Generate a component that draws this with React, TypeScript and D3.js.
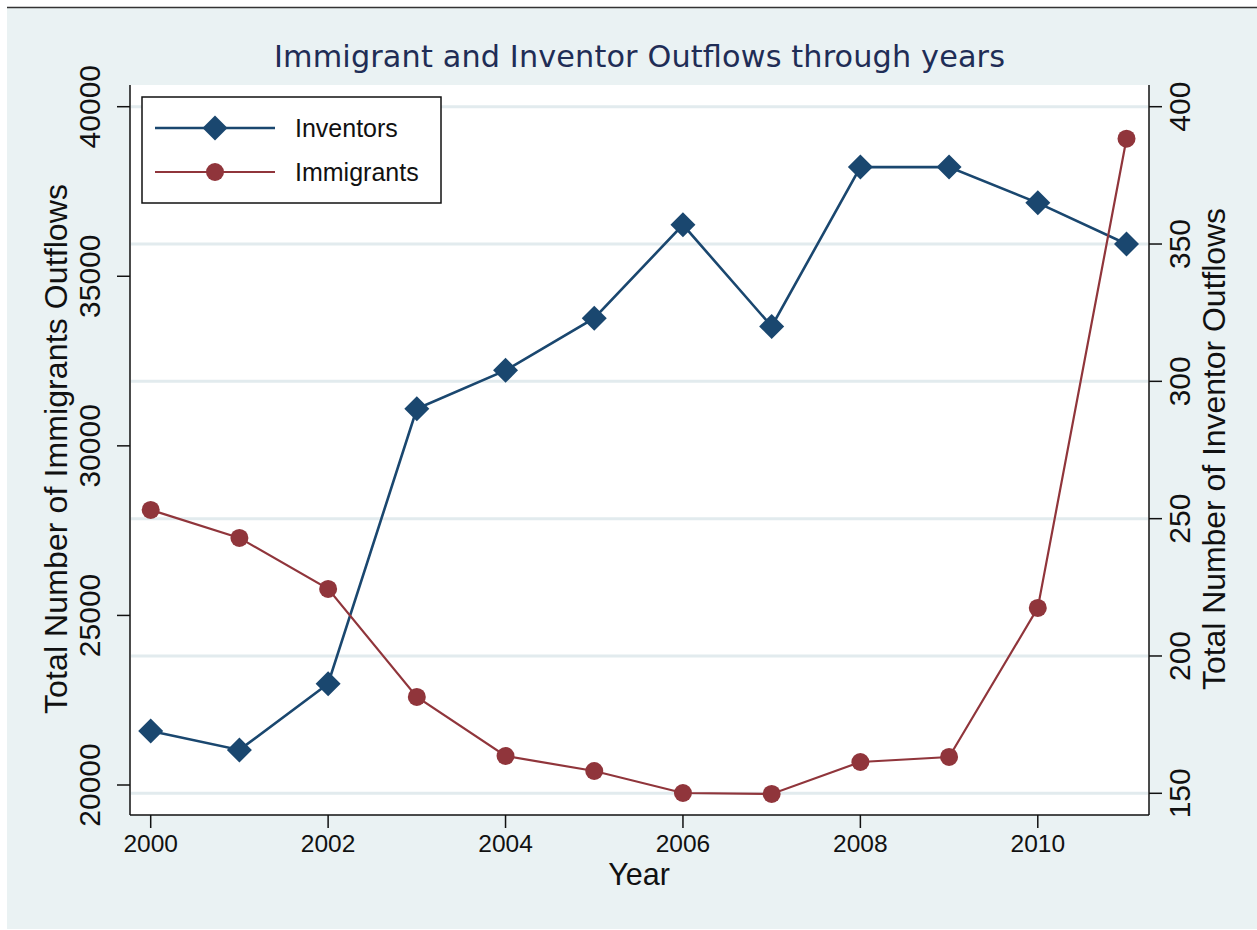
import React from "react";
import * as d3 from "d3";

const years = [2000, 2001, 2002, 2003, 2004, 2005, 2006, 2007, 2008, 2009, 2010, 2011];
const inventors = [172.7, 165.8, 189.9, 290, 304, 323, 357, 320, 378, 378, 365, 350];
const immigrants = [28112, 27286, 25782, 22596, 20855, 20413, 19764, 19735, 20678, 20826, 25221, 39057];
const xTicks = [2000, 2002, 2004, 2006, 2008, 2010];
const leftTicks = [20000, 25000, 30000, 35000, 40000];
const rightTicks = [150, 200, 250, 300, 350, 400];

const W = 1257;
const H = 930;
const FONT = "'Liberation Sans', Arial, Helvetica, sans-serif";
const TITLE_FONT = "'DejaVu Sans', Verdana, sans-serif";
const NAVY = "#1a476f";
const MAROON = "#90353b";
const BG = "#eaf2f3";
const GRID = "#e2ebee";

export default function App() {
  const plot = { left: 130, right: 1149, top: 85, bottom: 815 };
  const x = d3.scaleLinear().domain([2000, 2011]).range([150.7, 1126.5]);
  const yL = d3.scaleLinear().domain([20000, 40000]).range([785, 106.7]);
  const yR = d3.scaleLinear().domain([150, 400]).range([793.3, 106.7]);

  const invLine = d3
    .line<number>()
    .x((_, i) => x(years[i]))
    .y((d) => yR(d));
  const immLine = d3
    .line<number>()
    .x((_, i) => x(years[i]))
    .y((d) => yL(d));

  const diamond = (cx: number, cy: number, r: number) =>
    `M${cx},${cy - r}L${cx + r},${cy}L${cx},${cy + r}L${cx - r},${cy}Z`;

  return (
    <svg
      width={W}
      height={H}
      style={{ position: "absolute", left: 0, top: 0, display: "block" }}
      fontFamily={FONT}
    >
      <rect x={0} y={0} width={W} height={H} fill="#ffffff" />
      <rect x={7} y={8} width={W - 7} height={921} fill={BG} />
      <line x1={7} x2={W} y1={7.5} y2={7.5} stroke="#333" strokeWidth={1.5} />

      {/* plot region */}
      <rect
        x={plot.left}
        y={plot.top}
        width={plot.right - plot.left}
        height={plot.bottom - plot.top}
        fill="#ffffff"
      />

      {/* gridlines */}
      {rightTicks.map((t) => (
        <line
          key={"g" + t}
          x1={plot.left + 1}
          x2={plot.right - 1}
          y1={yR(t)}
          y2={yR(t)}
          stroke={GRID}
          strokeWidth={3}
        />
      ))}

      {/* title */}
      <text
        x={639.5}
        y={66.5}
        textAnchor="middle"
        fontSize={30.3}
        fontFamily={TITLE_FONT}
        fill="#1f2d56"
        textLength={731}
        lengthAdjust="spacing"
      >
        Immigrant and Inventor Outflows through years
      </text>

      {/* axes */}
      <line x1={plot.left} x2={plot.left} y1={plot.top} y2={plot.bottom} stroke="#111" strokeWidth={1.5} />
      <line x1={plot.right} x2={plot.right} y1={plot.top} y2={plot.bottom} stroke="#111" strokeWidth={1.5} />
      <line x1={plot.left} x2={plot.right} y1={plot.bottom} y2={plot.bottom} stroke="#111" strokeWidth={1.5} />

      {/* left ticks */}
      {leftTicks.map((t) => (
        <g key={"l" + t}>
          <line x1={117} x2={plot.left} y1={yL(t)} y2={yL(t)} stroke="#111" strokeWidth={1.5} />
          <text
            transform={`translate(100,${yL(t)}) rotate(-90)`}
            textAnchor="middle"
            fontSize={30}
            fill="#111"
          >
            {t}
          </text>
        </g>
      ))}

      {/* right ticks */}
      {rightTicks.map((t) => (
        <g key={"r" + t}>
          <line x1={plot.right} x2={1162} y1={yR(t)} y2={yR(t)} stroke="#111" strokeWidth={1.5} />
          <text
            transform={`translate(1190,${yR(t)}) rotate(-90)`}
            textAnchor="middle"
            fontSize={30}
            fill="#111"
          >
            {t}
          </text>
        </g>
      ))}

      {/* x ticks */}
      {xTicks.map((t) => (
        <g key={"x" + t}>
          <line x1={x(t)} x2={x(t)} y1={plot.bottom} y2={828} stroke="#111" strokeWidth={1.5} />
          <text x={x(t)} y={851.5} textAnchor="middle" fontSize={24.5} fill="#111">
            {t}
          </text>
        </g>
      ))}

      {/* axis titles */}
      <text x={639} y={885} textAnchor="middle" fontSize={30.5} fill="#111">
        Year
      </text>
      <text
        transform={`translate(67,449) rotate(-90)`}
        textAnchor="middle"
        fontSize={32}
        fill="#111"
        textLength={530}
        lengthAdjust="spacing"
      >
        Total Number of Immigrants Outflows
      </text>
      <text
        transform={`translate(1225,449) rotate(-90)`}
        textAnchor="middle"
        fontSize={32}
        fill="#111"
        textLength={482}
        lengthAdjust="spacing"
      >
        Total Number of Inventor Outflows
      </text>

      {/* series */}
      <path d={invLine(inventors) || ""} fill="none" stroke={NAVY} strokeWidth={2.6} />
      {inventors.map((v, i) => (
        <path key={"d" + i} d={diamond(x(years[i]), yR(v), 12.5)} fill={NAVY} />
      ))}
      <path d={immLine(immigrants) || ""} fill="none" stroke={MAROON} strokeWidth={2.2} />
      {immigrants.map((v, i) => (
        <circle key={"c" + i} cx={x(years[i])} cy={yL(v)} r={9} fill={MAROON} />
      ))}

      {/* legend */}
      <rect x={142} y={97} width={299} height={106} fill="#ffffff" stroke="#111" strokeWidth={1.5} />
      <line x1={155} x2={275} y1={128} y2={128} stroke={NAVY} strokeWidth={2.6} />
      <path d={diamond(215, 128, 12.5)} fill={NAVY} />
      <text x={295} y={136.7} fontSize={25} fill="#111">
        Inventors
      </text>
      <line x1={155} x2={275} y1={172} y2={172} stroke={MAROON} strokeWidth={2.2} />
      <circle cx={215} cy={172} r={9} fill={MAROON} />
      <text x={295} y={180.7} fontSize={25} fill="#111">
        Immigrants
      </text>
    </svg>
  );
}
